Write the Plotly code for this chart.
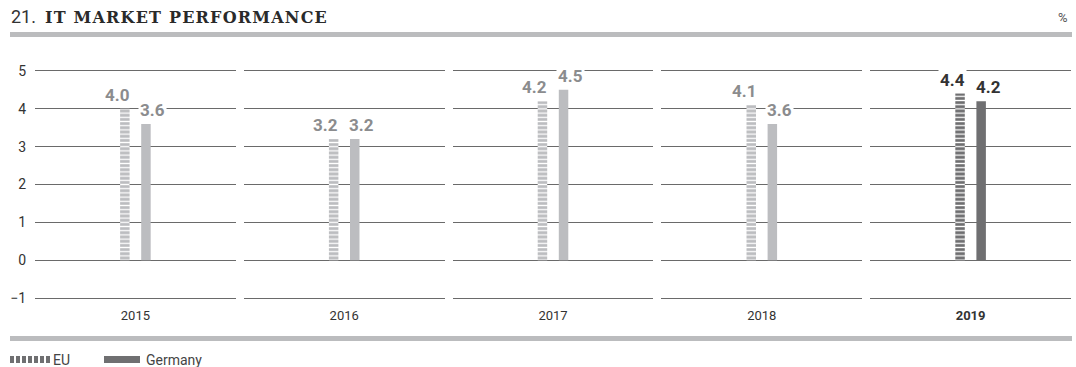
import plotly.graph_objects as go
from plotly.subplots import make_subplots

# ---- data ----
years = ["2015", "2016", "2017", "2018", "2019"]
eu = [4.0, 3.2, 4.2, 4.1, 4.4]
germany = [3.6, 3.2, 4.5, 3.6, 4.2]
y_ticks = [-1, 0, 1, 2, 3, 4, 5]
title_num = "21."
title_txt = "IT MARKET PERFORMANCE"
unit = "%"
legend_names = ["EU", "Germany"]

# ---- style ----
W, H = 1076, 367
ML, MR, MT, MB = 35, 5, 69, 67
PW, PH = W - ML - MR, H - MT - MB
LIGHT = "#bcbdc0"
DARK = "#6f6f71"
LBL_LIGHT = "#8b8c8e"
LBL_DARK = "#333333"
GRID = "#6a6a6a"
RULE = "#bbbcbe"
FONT = "Roboto"


def px_x(p):
    return (p - ML) / PW


def px_y(p):
    return (H - MB - p) / PH


fig = make_subplots(rows=1, cols=5, shared_yaxes=True,
                    horizontal_spacing=8 / PW)

for i, yr in enumerate(years):
    col = i + 1
    highlight = (i == len(years) - 1)
    c = DARK if highlight else LIGHT
    fig.add_trace(go.Bar(
        x=[yr], y=[eu[i]], name=legend_names[0], showlegend=False,
        marker=dict(color=c, line=dict(width=0),
                    pattern=dict(shape="-", fillmode="overlay", fgcolor="white",
                                 fgopacity=1, size=4.2, solidity=0.3)),
        hoverinfo="skip"), row=1, col=col)
    fig.add_trace(go.Bar(
        x=[yr], y=[germany[i]], name=legend_names[1], showlegend=False,
        marker=dict(color=c, line=dict(width=0)),
        hoverinfo="skip"), row=1, col=col)
    xref = "x" if col == 1 else f"x{col}"
    yref = "y" if col == 1 else f"y{col}"
    lc = LBL_DARK if highlight else LBL_LIGHT
    cat_index = 0  # the single category of this panel
    fig.add_annotation(x=cat_index, y=eu[i], xref=xref, yref=yref, text=f"<b>{eu[i]:.1f}</b>",
                       showarrow=False, xanchor="right", yanchor="bottom",
                       xshift=-4, yshift=2, bgcolor="white",
                       font=dict(family=FONT, size=17, color=lc))
    fig.add_annotation(x=cat_index, y=germany[i], xref=xref, yref=yref,
                       text=f"<b>{germany[i]:.1f}</b>",
                       showarrow=False, xanchor="left", yanchor="bottom",
                       xshift=3, yshift=2, bgcolor="white",
                       font=dict(family=FONT, size=17, color=lc))
    fig.update_xaxes(row=1, col=col, type="category", range=[-0.5, 0.5],
                     autorange=False, showgrid=False, zeroline=False,
                     showline=False, ticks="", ticklabelstandoff=6,
                     tickvals=[yr], ticktext=[f"<b>{yr}</b>" if highlight else yr],
                     tickfont=dict(family=FONT, size=13, color="#333333"),
                     fixedrange=True)
    fig.update_yaxes(row=1, col=col, range=[-1.05, 5.05], tickvals=y_ticks, showgrid=True,
                     gridcolor=GRID, gridwidth=1, zeroline=False, showline=False,
                     ticks="", tickfont=dict(family=FONT, size=14, color="#333333"),
                     ticklabelstandoff=8, fixedrange=True)

fig.update_layout(
    width=W, height=H, barmode="group", bargap=0.79, bargroupgap=0.55,
    margin=dict(l=ML, r=MR, t=MT, b=MB),
    paper_bgcolor="white", plot_bgcolor="white", showlegend=False,
    font=dict(family=FONT, color="#333333"),
)

# title
fig.add_annotation(xref="paper", yref="paper", x=px_x(9), y=px_y(29), xanchor="left",
                   yanchor="bottom", showarrow=False, text=title_num,
                   font=dict(family=FONT, size=18, color="#333333"))
fig.add_annotation(xref="paper", yref="paper", x=px_x(43), y=px_y(29), xanchor="left",
                   yanchor="bottom", showarrow=False,
                   text=f"<span style='letter-spacing:1.2px'><b>{title_txt}</b></span>",
                   font=dict(family="DejaVu Serif", size=16, color="#2a2a2a"))
fig.add_annotation(xref="paper", yref="paper", x=px_x(1070), y=px_y(27), xanchor="right",
                   yanchor="bottom", showarrow=False, text=unit,
                   font=dict(family=FONT, size=13, color="#555555"))

# rules
for yy in (34.5, 338.5):
    fig.add_shape(type="line", xref="paper", yref="paper", x0=px_x(10), x1=px_x(1072),
                  y0=px_y(yy), y1=px_y(yy), line=dict(color=RULE, width=5))

# legend
ly0, ly1 = px_y(363), px_y(356)
for k in range(7):
    x0 = 10 + k * 6
    fig.add_shape(type="rect", xref="paper", yref="paper", x0=px_x(x0), x1=px_x(x0 + 4),
                  y0=ly0, y1=ly1, fillcolor=DARK, line=dict(width=0))
fig.add_annotation(xref="paper", yref="paper", x=px_x(51), y=px_y(359.5), xanchor="left",
                   yanchor="middle", showarrow=False, text=legend_names[0],
                   font=dict(family=FONT, size=14, color="#444444"))
fig.add_shape(type="rect", xref="paper", yref="paper", x0=px_x(104), x1=px_x(140),
              y0=ly0, y1=ly1, fillcolor=DARK, line=dict(width=0))
fig.add_annotation(xref="paper", yref="paper", x=px_x(144), y=px_y(359.5), xanchor="left",
                   yanchor="middle", showarrow=False, text=legend_names[1],
                   font=dict(family=FONT, size=14, color="#444444"))

fig.write_html("out.html", config={"displayModeBar": False},
               post_script="document.body.style.margin='0';"
               "document.body.style.overflow='hidden';")
